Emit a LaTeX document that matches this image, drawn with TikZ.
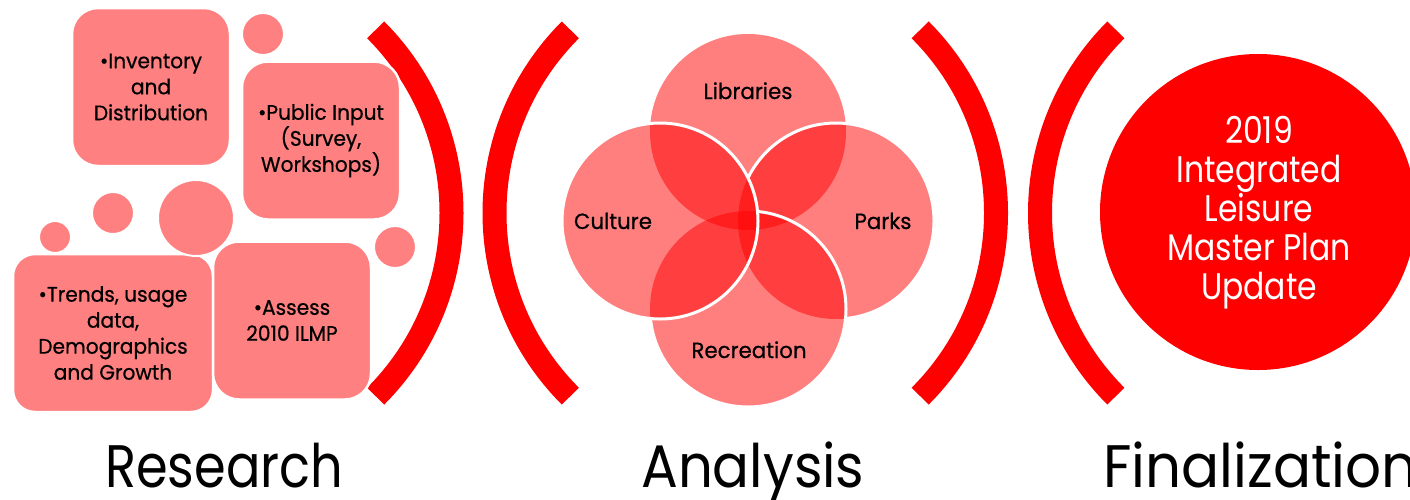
\documentclass[tikz,border=0pt]{standalone}
\usepackage{fontspec}
\setmainfont[FakeStretch=0.85]{Poppins}
\newfontfamily\boxfont[FakeStretch=0.96,FakeBold=0.6]{Poppins}
\newfontfamily\vennfont[FakeStretch=0.97,FakeBold=0.6]{Poppins}
\newfontfamily\labfontA[FakeStretch=0.85]{Poppins}
\newfontfamily\labfontB[FakeStretch=0.91]{Poppins}
\newfontfamily\labfontC[FakeStretch=0.94]{Poppins}
\definecolor{brightred}{HTML}{FF0000}
\definecolor{boxfill}{HTML}{FF8080}
\begin{document}
\begin{tikzpicture}[x=1pt,y=-1pt,
  box/.style={draw=white, line width=2.5pt, fill=boxfill, rounded corners=26pt,
    minimum height=158pt, inner sep=0pt, align=center, text=black,
    font=\boxfont\fontsize{21}{26}\selectfont},
  bub/.style={circle, draw=white, line width=2pt, fill=boxfill, inner sep=0pt},
  bracket/.style={draw=brightred, line width=24pt},
  venn/.style={circle, fill=red, fill opacity=0.5, minimum size=196pt, inner sep=0pt},
  vline/.style={draw=white, line width=3pt},
  vlabel/.style={anchor=base, text=black, inner sep=0pt, font=\vennfont\fontsize{22}{26}\selectfont},
  biglabel/.style={anchor=base west, text=black, inner sep=0pt},
  fintext/.style={align=center, text=white, inner sep=0pt, font=\fontsize{37}{39}\selectfont}]
\useasboundingbox (0,0) rectangle (1410,499);

% brackets
\draw[bracket] (192.5,213) ++(-45:259) arc[start angle=-45, end angle=45, radius=259];
\draw[bracket] (753.5,213) ++(135:259) arc[start angle=135, end angle=225, radius=259];
\draw[bracket] (737,213) ++(-45:259) arc[start angle=-45, end angle=45, radius=259];
\draw[bracket] (1299,213) ++(135:259) arc[start angle=135, end angle=225, radius=259];

% research
\node[box, minimum width=158pt] (inv) at (151,87) {•Inventory\\and\\Distribution};
\node[bub, minimum size=42pt] (b1) at (263,34) {};
\node[box, minimum width=158pt] (pub) at (321,140.5) {•Public Input\\(Survey,\\Workshops)};
\node[bub, minimum size=42pt] (b3) at (113,213) {};
\node[bub, minimum size=32pt] (b4) at (55,237) {};
\node[box, minimum width=200pt, rounded corners=22pt] (tre) at (113,333) {•Trends, usage\\data,\\Demographics\\and Growth};
\node[bub, minimum size=76pt] (b2) at (196,218) {};
\node[box, minimum width=158pt] (ass) at (292,320.5) {•Assess\\2010 ILMP};
\node[bub, minimum size=42pt] (b5) at (395,247) {};

% analysis venn
\node[venn] (lib) at (748,132) {};
\node[venn] (par) at (836,221) {};
\node[venn] (rec) at (748,309) {};
\node[venn] (cul) at (660,221) {};
\begin{scope}[even odd rule]
  \clip (0,0) rectangle (1410,499) (rec.center) circle[radius=98];
  \begin{scope}[even odd rule]
    \clip (0,0) rectangle (1410,499) (cul.center) circle[radius=98];
    \draw[vline] (par.center) circle[radius=98];
  \end{scope}
\end{scope}
\begin{scope}[even odd rule]
  \clip (0,0) rectangle (1410,499) (cul.center) circle[radius=98];
  \draw[vline] (rec.center) circle[radius=98];
\end{scope}
\draw[vline] (cul.center) circle[radius=98];

\node[vlabel] (tlib) at (748,99) {Libraries};
\node[vlabel] (tcul) at (613,229) {Culture};
\node[vlabel] (tpar) at (883,229) {Parks};
\node[vlabel] (trec) at (749,358) {Recreation};

% finalization
\node[circle, fill=brightred, minimum size=316pt, inner sep=0pt] (fin) at (1258,212) {};
\node[fintext] (ftx) at (1259,212.5) {2019\\Integrated\\Leisure\\Master Plan\\Update};

% stage labels
\node[biglabel, font=\labfontA\fontsize{60}{70}\selectfont] (lres) at (105,487) {Research};
\node[biglabel, font=\labfontB\fontsize{60}{70}\selectfont] (lana) at (641,487) {Analysis};
\node[biglabel, font=\labfontC\fontsize{60}{70}\selectfont] (lfin) at (1103,487) {Finalization};
\end{tikzpicture}
\end{document}
